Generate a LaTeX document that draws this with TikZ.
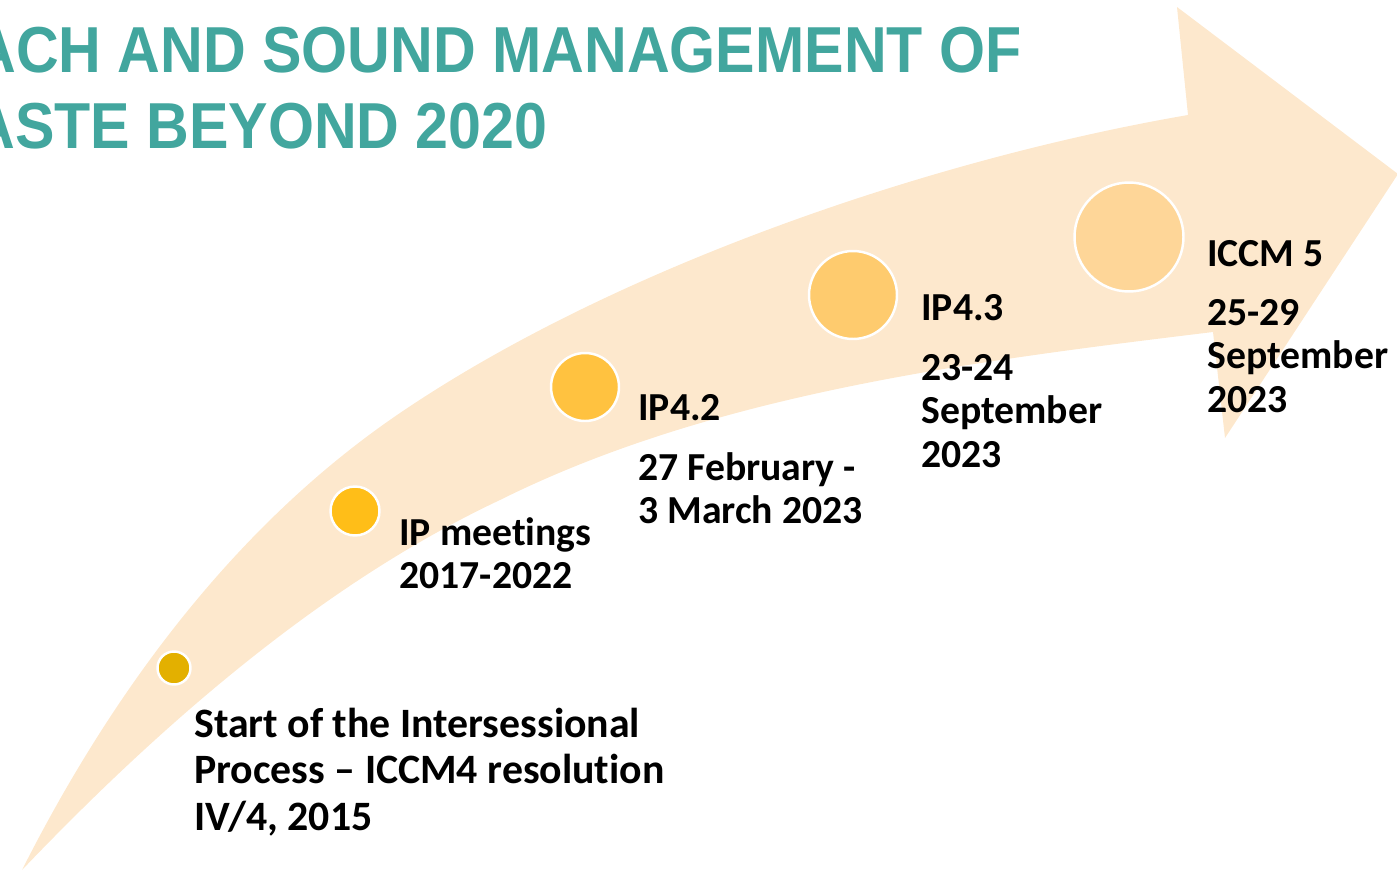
\documentclass[tikz,border=0pt]{standalone}
\usepackage{fontspec}
\setmainfont[Ligatures=NoCommon]{Carlito}
\newfontfamily\titlefont[FakeStretch=0.91]{Liberation Sans}
\definecolor{bandcol}{RGB}{253,232,205}
\definecolor{titlecol}{RGB}{66,166,158}
\definecolor{dotA}{RGB}{227,176,0}
\definecolor{dotB}{RGB}{255,190,24}
\definecolor{dotC}{RGB}{255,194,64}
\definecolor{dotD}{RGB}{254,203,110}
\definecolor{dotE}{RGB}{254,214,152}
\newcommand{\stack}[1]{\begin{tabular}[t]{@{}l@{}}#1\end{tabular}}
\tikzset{
    dotnode/.style={
        circle,
        draw=white, % white ring round each dot
        line width=1.4pt,
        inner sep=0
    },
    labelnode/.style={
        anchor=base west,
        inner sep=0,
        font=\bfseries\fontsize{22.6}{25}\selectfont
    },
    titlenode/.style={
        anchor=base east,
        inner sep=0,
        text=titlecol,
        font=\titlefont\bfseries\fontsize{37}{40}\selectfont
    }
}
\begin{document}
\begin{tikzpicture}[x=0.02cm, y=-0.02cm]
    \useasboundingbox (0,0) rectangle (1397,872);
    \clip (0,0) rectangle (1397,872);
    % curved arrow
    \fill[bandcol] (22,870) .. controls (112,692) and (235,525) .. (400,413)
        .. controls (615,267) and (932,159) .. (1188,115)
        -- (1177,7) -- (1398,174) -- (1225,438) -- (1213,332)
        .. controls (975,361) and (715,393) .. (500,500)
        .. controls (330,580) and (170,715) .. (22,870)
        -- cycle;
    % title
    \node[titlenode] (title1) at (1022,72) {ACH AND SOUND MANAGEMENT OF};
    \node[titlenode] (title2) at (548,148) {ASTE BEYOND 2020};
    % milestones
    \node[dotnode, fill=dotA, minimum size=0.66cm] (start) at (174,668) {};
    \node[dotnode, fill=dotB, minimum size=0.98cm] (meet) at (355,511) {};
    \node[dotnode, fill=dotC, minimum size=1.36cm] (ipa) at (585,387) {};
    \node[dotnode, fill=dotD, minimum size=1.76cm] (ipb) at (853,295) {};
    \node[dotnode, fill=dotE, minimum size=2.18cm] (iccm) at (1129,237) {};
    % labels
    \node[labelnode, font=\bfseries\fontsize{23.8}{26.5}\selectfont] (startlbl) at (194,737)
        {\stack{Start of the Intersessional\\Process -- ICCM4 resolution\\IV/4, 2015}};
    \node[labelnode] (meetlbl) at (399,545) {\stack{IP meetings\\2017-2022}};
    \node[labelnode] (ipalbl) at (638,420) {IP4.2};
    \node[labelnode] (ipadate) at (638,480) {\stack{27 February -\\3 March 2023}};
    \node[labelnode] (ipblbl) at (921,320) {IP4.3};
    \node[labelnode] (ipbdate) at (921,380) {\stack{23-24\\September\\2023}};
    \node[labelnode] (iccmlbl) at (1207,266) {ICCM 5};
    \node[labelnode] (iccmdate) at (1207,325) {\stack{25-29\\September\\2023}};
\end{tikzpicture}
\end{document}
